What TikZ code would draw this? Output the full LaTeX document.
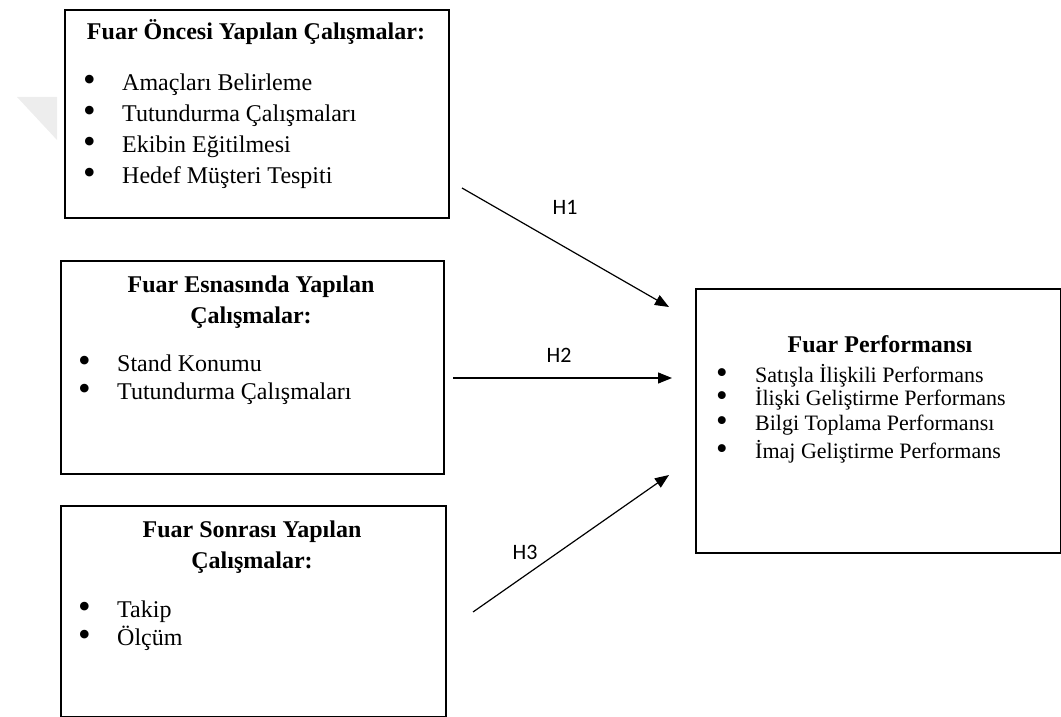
\documentclass[tikz,border=0pt]{standalone}
\usepackage{fontspec}
\setmainfont{Liberation Serif}
\newfontfamily\hfont{Carlito}
\usepackage{tikz}
\usetikzlibrary{positioning,arrows.meta}

\newcommand{\blt}{\makebox[39pt][l]{\raisebox{-1.5pt}{\scalebox{1.5}{\textbullet}}}}

\begin{document}
\begin{tikzpicture}[x=1pt,y=-1pt,
  frame/.style={draw, line width=2pt, inner sep=0pt, anchor=north west},
  head/.style={font=\fontsize{24}{31}\selectfont\bfseries, align=center, inner sep=0pt, anchor=base},
  items/.style={font=\fontsize{24}{31}\selectfont, align=left, inner sep=0pt, anchor=base west},
  hyp/.style={font=\hfont\fontsize{22}{24}\selectfont, inner sep=0pt},
  link/.style={line width=1.2pt, -{Triangle[length=14pt,width=11pt]}}]

\useasboundingbox (0,0) rectangle (1061,717);
\fill[black!7] (17,97) -- (57,97) -- (57,140) -- cycle;

% boxes
\node[frame, minimum width=384pt, minimum height=208pt] at (64,9)(pre){};
\node[frame, minimum width=383pt, minimum height=213pt] at (60,260)(during){};
\node[frame, minimum width=385pt, minimum height=211pt] at (60,505)(post){};
\node[frame, minimum width=365pt, minimum height=264pt] at (695,288)(perf){};

% before the fair (base = last line)
\node[head] at (256,40)(preT){Fuar Öncesi Yapılan Çalışmalar:};
\node[items] at (83,183)(preL){
\blt Amaçları Belirleme\\
\blt Tutundurma Çalışmaları\\
\blt Ekibin Eğitilmesi\\
\blt Hedef Müşteri Tespiti};

% during the fair
\node[head] at (251,323)(duringT){Fuar Esnasında Yapılan\\Çalışmalar:};
\node[items, font=\fontsize{24}{28}\selectfont] at (78,399)(duringL){
\blt Stand Konumu\\
\blt Tutundurma Çalışmaları};

% after the fair
\node[head] at (252,568)(postT){Fuar Sonrası Yapılan\\Çalışmalar:};
\node[items, font=\fontsize{24}{28}\selectfont] at (78,645)(postL){
\blt Takip\\
\blt Ölçüm};

% performance
\node[head] at (880,352)(perfT){Fuar Performansı};
\node[items, font=\fontsize{22}{23}\selectfont] at (716,458)(perfL){
\blt Satışla İlişkili Performans\\
\blt İlişki Geliştirme Performans\\[2pt]
\blt Bilgi Toplama Performansı\\[5pt]
\blt İmaj Geliştirme Performans};

% hypotheses
\coordinate (s1) at (462,188);
\coordinate (e1) at (669,307);
\coordinate (s2) at (453,378);
\coordinate (e2) at (672,378);
\coordinate (s3) at (473,612);
\coordinate (e3) at (669,475);
\draw[link] (s1) -- (e1);
\draw[link] (s2) -- (e2);
\draw[link] (s3) -- (e3);
\node[hyp] at (565,207)(h1){H1};
\node[hyp] at (559,355)(h2){H2};
\node[hyp] at (525,552)(h3){H3};
\end{tikzpicture}
\end{document}
